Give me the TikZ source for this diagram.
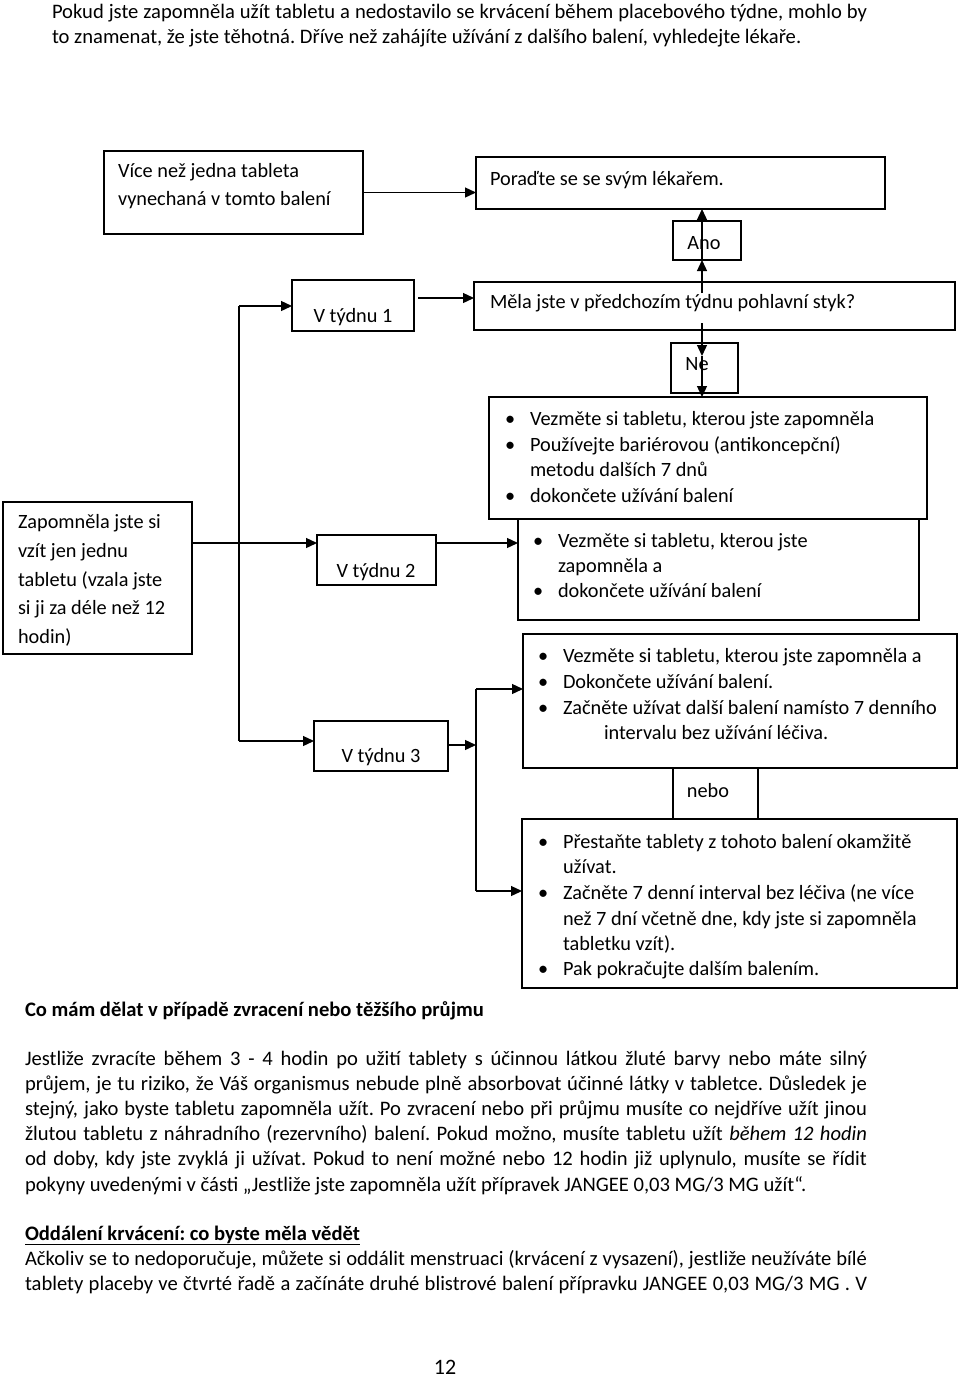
\documentclass[tikz,border=0pt]{standalone}
\usepackage{fontspec}
\setmainfont{Carlito}
\usetikzlibrary{arrows.meta}
\frenchspacing
\tikzset{
  box/.style={draw, line width=1.4pt, inner sep=0pt, outer sep=0pt, anchor=north west},
  txt/.style={inner sep=0pt, outer sep=0pt, anchor=base west, font=\fontsize{20.3}{24}\selectfont},
  body/.style={inner sep=0pt, outer sep=0pt, anchor=base west, font=\fontsize{20.6}{24}\selectfont},
  arr/.style={line width=1.3pt, -{Triangle[length=11pt,width=10pt]}},
  con/.style={line width=1.3pt},
}
\newcommand\bx[5]{\node[box, minimum width={#4-#2}, minimum height={#5-#3}] (#1) at (#2,#3) {};}
\newcommand\tbox[4]{\node[txt] (#1) at (#2,#3) {#4};}
\newcommand\tcen[4]{\node[txt,anchor=base] (#1) at (#2,#3) {#4};}
\newcommand\bitem[5]{\node[txt] (#1b) at (#2,#4) {\textbullet}; \node[txt] (#1) at (#3,#4) {#5};}
\newcommand\jline[5]{\node[body] (#1) at (#2,#3) {\makebox[#4pt][s]{#5}};}
\newcommand\pline[4]{\node[body] (#1) at (#2,#3) {#4};}
\begin{document}
\begin{tikzpicture}[x=1pt,y=-1pt]
\useasboundingbox (0,0) rectangle (960,1382);
% top paragraph
\jline{top1}{52}{18}{815}{Pokud jste zapomněla užít tabletu a nedostavilo se krvácení během placebového týdne, mohlo by}
\pline{top2}{52}{43}{to znamenat, že jste těhotná. Dříve než zahájíte užívání z dalšího balení, vyhledejte lékaře.}

% boxes
\bx{b1}{104}{151}{363}{234}
\bx{b2}{476}{157}{885}{209}
\bx{ano}{673}{221}{741}{260}
\bx{b4}{474}{282}{955}{330}
\bx{ne}{671}{343}{738}{393}
\bx{b6}{489}{397}{927}{519}
\bx{b7}{518}{519}{919}{620}
\bx{b8}{523}{634}{957}{768}
\bx{nebo}{673}{768}{758}{819}
\bx{b9}{522}{819}{957}{988}
\bx{lb}{3}{502}{192}{654}
\bx{w1}{292}{280}{414}{331}
\bx{w2}{317}{535}{436}{585}
\bx{w3}{314}{721}{448}{771}

% texts in boxes
\tbox{t1a}{118}{177}{Více než jedna tableta}
\tbox{t1b}{118}{205}{vynechaná v tomto balení}
\tbox{t2}{490}{185}{Poraďte se se svým lékařem.}
\tcen{tano}{704}{249}{Ano}
\tbox{t4}{490}{308}{Měla jste v předchozím týdnu pohlavní styk?}
\tcen{tne}{697}{370}{Ne}
\tcen{tw1}{353}{322}{V týdnu 1}
\tcen{tw2}{376}{577}{V týdnu 2}
\tcen{tw3}{381}{762}{V týdnu 3}
\tcen{tnebo}{708}{797}{nebo}

\tbox{l1}{18}{528}{Zapomněla jste si}
\tbox{l2}{18}{557}{vzít jen jednu}
\tbox{l3}{18}{586}{tabletu (vzala jste}
\tbox{l4}{18}{614}{si ji za déle než 12}
\tbox{l5}{18}{643}{hodin)}

\bitem{s6a}{505}{530}{425}{Vezměte si tabletu, kterou jste zapomněla}
\bitem{s6b}{505}{530}{451}{Používejte bariérovou (antikoncepční)}
\tbox{s6c}{530}{476}{metodu dalších 7 dnů}
\bitem{s6d}{505}{530}{502}{dokončete užívání balení}

\bitem{s7a}{533}{558}{547}{Vezměte si tabletu, kterou jste}
\tbox{s7b}{558}{572}{zapomněla a}
\bitem{s7c}{533}{558}{597}{dokončete užívání balení}

\bitem{s8a}{538}{563}{662}{Vezměte si tabletu, kterou jste zapomněla a}
\bitem{s8b}{538}{563}{688}{Dokončete užívání balení.}
\bitem{s8c}{538}{563}{714}{Začněte užívat další balení namísto 7 denního}
\tbox{s8d}{604}{739}{intervalu bez užívání léčiva.}

\bitem{s9a}{538}{563}{848}{Přestaňte tablety z tohoto balení okamžitě}
\tbox{s9b}{563}{873}{užívat.}
\bitem{s9c}{538}{563}{899}{Začněte 7 denní interval bez léčiva (ne více}
\tbox{s9d}{563}{925}{než 7 dní včetně dne, kdy jste si zapomněla}
\tbox{s9e}{563}{950}{tabletku vzít).}
\bitem{s9f}{538}{563}{975}{Pak pokračujte dalším balením.}

% connectors
\draw[arr] (b1.east) -- (b1.east -| b2.west);
\coordinate (wa) at (418,298);
\draw[arr] (wa) -- (wa -| b4.west);
\coordinate (a1) at (702,293);
\draw[arr] (a1) -- (a1 |- ano.south);
\draw[arr] (a1 |- ano.south) -- (a1 |- b2.south);
\coordinate (n1) at (702,323);
\coordinate (n2) at (702,356);
\draw[arr] (n1) -- (n2);
\draw[arr] (n2) -- (n2 |- b6.north);

\coordinate (jt) at (239,306);
\coordinate (jm) at (239,543);
\coordinate (jb) at (239,741);
\draw[con] (jt) -- (jb);
\draw[arr] (jt) -- (jt -| w1.west);
\draw[arr] (jb) -- (jb -| w3.west);
\draw[arr] (jm -| lb.east) -- (jm -| w2.west);
\draw[arr] (jm -| w2.east) -- (jm -| b7.west);

\coordinate (kt) at (476,689);
\coordinate (km) at (476,745);
\coordinate (kb) at (476,891);
\draw[con] (kt) -- (kb);
\draw[arr] (km -| w3.east) -- (km);
\draw[arr] (kt) -- (kt -| b8.west);
\draw[arr] (kb) -- (kb -| b9.west);

% bottom text
\pline{h1}{25}{1016}{\bfseries Co mám dělat v případě zvracení nebo těžšího průjmu}
\jline{p1}{25}{1065}{842}{Jestliže zvracíte během 3 - 4 hodin po užití tablety s účinnou látkou žluté barvy nebo máte silný}
\jline{p2}{25}{1090}{842}{průjem, je tu riziko, že Váš organismus nebude plně absorbovat účinné látky v tabletce. Důsledek je}
\jline{p3}{25}{1115}{842}{stejný, jako byste tabletu zapomněla užít. Po zvracení nebo při průjmu musíte co nejdříve užít jinou}
\jline{p4}{25}{1140}{842}{žlutou tabletu z náhradního (rezervního) balení. Pokud možno, musíte tabletu užít \textit{během 12 hodin}}
\jline{p5}{25}{1165}{842}{od doby, kdy jste zvyklá ji užívat. Pokud to není možné nebo 12 hodin již uplynulo, musíte se řídit}
\pline{p6}{25}{1191}{pokyny uvedenými v části „Jestliže jste zapomněla užít přípravek JANGEE 0,03 MG/3 MG užít“.}
\pline{h2}{25}{1240}{\bfseries\underline{Oddálení krvácení: co byste měla vědět}}
\jline{q1}{25}{1265}{842}{Ačkoliv se to nedoporučuje, můžete si oddálit menstruaci (krvácení z vysazení), jestliže neužíváte bílé}
\jline{q2}{25}{1290}{842}{tablety placeby ve čtvrté řadě a začínáte druhé blistrové balení přípravku JANGEE 0,03 MG/3 MG . V}
\node[body, anchor=base, font=\fontsize{22}{26}\selectfont] (pg) at (445,1374) {12};
\end{tikzpicture}
\end{document}
